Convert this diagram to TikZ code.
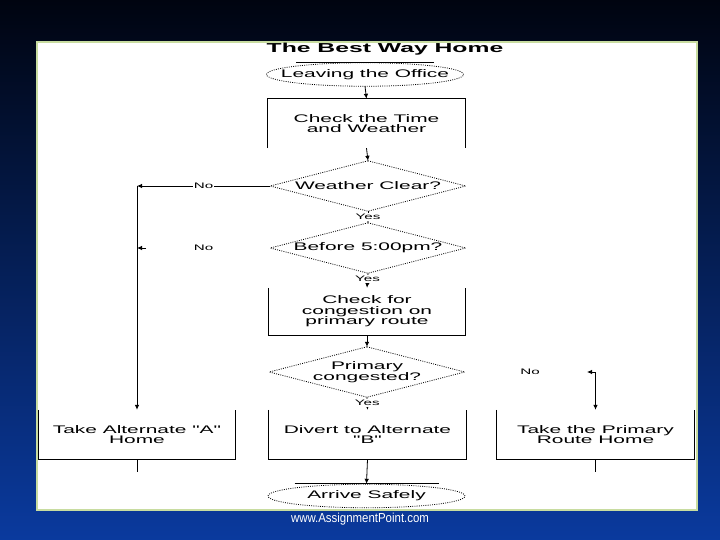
\documentclass[tikz,border=0pt]{standalone}
\usepackage{fontspec}
\usepackage{tikz}
\usetikzlibrary{arrows.meta}

\newfontfamily\chartfont[FakeStretch=1.9]{Liberation Sans}
\newfontfamily\sitefont[FakeStretch=0.88]{Liberation Sans}

\definecolor{bgtop}{RGB}{0,4,16}
\definecolor{bgmid}{RGB}{6,38,122}
\definecolor{bgbottom}{RGB}{10,58,158}
\definecolor{panelrim}{RGB}{200,220,160}

\tikzset{
  hidden/.style={rectangle, inner sep=0pt, align=center,
    font=\chartfont\fontsize{11bp}{10.5bp}\selectfont},
  process/.style={hidden, minimum width=197bp, minimum height=49bp},
  decision/.style={hidden, minimum width=195bp, minimum height=50bp},
  terminal/.style={hidden, minimum width=197bp, minimum height=23bp},
  outline/.style={line width=0.8bp},
  dotline/.style={line width=0.8bp, dash pattern=on 0.9bp off 1.3bp},
  flow/.style={line width=0.8bp, -{Latex[length=5bp,width=4.5bp]}},
  lbl/.style={fill=white, inner sep=1bp,
    font=\chartfont\fontsize{8bp}{8bp}\selectfont}
}

\begin{document}
\begin{tikzpicture}[x=1bp, y=-1bp]
  \useasboundingbox (0,0) rectangle (720,540);
  % slide background and white panel
  \shade[top color=bgtop, middle color=bgmid, bottom color=bgbottom] (0,0) rectangle (720,540);
  \draw[panelrim, line width=1.5bp, fill=white] (37,42) rectangle (697,510);

  % title
  \node[font=\chartfont\bfseries\fontsize{13bp}{13bp}\selectfont] (title) at (385,49) {The Best Way Home};

  % main column
  \node[terminal] (leave) at (365,74.5) {Leaving the Office};
  \node[process] (timebox) at (366.5,123.5) {Check the Time\\and Weather};
  \node[decision] (clear) at (368,186) {Weather Clear?};
  \node[decision] (before) at (368,248) {Before 5:00pm?};
  \node[process, minimum height=47bp] (congest) at (367,311.5) {Check for\\congestion on\\primary route};
  \node[decision] (busy) at (367,372) {Primary\\congested?};

  % three ways home
  \node[process] (altA) at (137,434.5) {Take Alternate "A"\\Home};
  \node[process] (altB) at (367.5,434.5) {Divert to Alternate\\"B"};
  \node[process] (primary) at (595.5,434.5) {Take the Primary\\Route Home};
  \node[terminal, minimum height=24bp] (arrive) at (366.5,496) {Arrive Safely};

  % outlines
  \foreach \t in {leave,arrive}
    \draw[dotline] (\t.center) ellipse [x radius=98.5bp, y radius=11.75bp];
  \draw[outline] (leave.north) ++(-69,0) -- ++(138,0);
  \draw[outline] (arrive.north) ++(-72,0) -- ++(144,0);
  \foreach \d in {clear,before,busy}
    \draw[dotline] (\d.north) -- (\d.east) -- (\d.south) -- (\d.west) -- cycle;
  \draw[outline] (timebox.south west) -- (timebox.north west) -- (timebox.north east) -- (timebox.south east);
  \foreach \b in {congest,altA,altB,primary}
    \draw[outline] (\b.north west) -- (\b.south west) -- (\b.south east) -- (\b.north east);

  % turning points
  \coordinate (turnA) at (137,186);
  \coordinate (turnB) at (137,248);
  \coordinate (stubB) at (146,248);
  \coordinate (turnC) at (595.5,372);
  \coordinate (stubC) at (587,372);
  \coordinate (endA) at (137,472);
  \coordinate (endC) at (595.5,472);

  % connectors
  \draw[flow] (leave.south) -- (timebox.north);
  \draw[flow] (timebox.south) -- (clear.north);
  \draw[flow] (clear.south) -- node[lbl] {Yes} (before.north);
  \draw[flow] (before.south) -- node[lbl, pos=0.4] {Yes} (congest.north);
  \draw[flow] (congest.south) -- (busy.north);
  \draw[flow] (busy.south) -- node[lbl, pos=0.45] {Yes} (altB.north);
  \draw[flow] (altB.south) -- (arrive.north);

  \draw[flow] (clear.west) -- node[lbl] {No} (turnA);
  \draw[flow] (turnA) -- (altA.north);
  \path (before.west) -- node[lbl] {No} (turnB);
  \draw[flow] (stubB) -- (turnB);
  \path (busy.east) -- node[lbl] {No} (turnC);
  \draw[flow] (turnC) -- (stubC);
  \draw[flow] (turnC) -- (primary.north);
  \draw[outline] (altA.south) -- (endA);
  \draw[outline] (primary.south) -- (endC);

  % footer
  \node[text=white, font=\sitefont\fontsize{13bp}{13bp}\selectfont] (site) at (360,519) {www.AssignmentPoint.com};
\end{tikzpicture}
\end{document}
